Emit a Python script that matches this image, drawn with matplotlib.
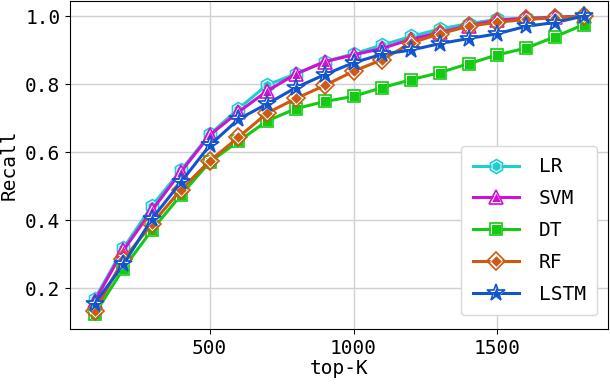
import matplotlib
matplotlib.use("Agg")
import matplotlib.pyplot as plt
from matplotlib.legend_handler import HandlerTuple

# top-K values on the x axis
top_k = [100, 200, 300, 400, 500, 600, 700, 800, 900,
         1000, 1100, 1200, 1300, 1400, 1500, 1600, 1700, 1800]

# recall of each model
recall_lr = [0.168, 0.318, 0.443, 0.547, 0.652, 0.728, 0.798, 0.830, 0.866,
             0.889, 0.915, 0.940, 0.962, 0.978, 0.990, 0.994, 0.997, 1.000]
recall_svm = [0.162, 0.312, 0.430, 0.542, 0.650, 0.718, 0.780, 0.830, 0.866,
              0.886, 0.905, 0.932, 0.952, 0.972, 0.988, 0.993, 0.996, 1.000]
recall_dt = [0.124, 0.258, 0.372, 0.474, 0.571, 0.632, 0.692, 0.728, 0.749,
             0.764, 0.790, 0.813, 0.834, 0.860, 0.886, 0.906, 0.939, 0.975]
recall_rf = [0.133, 0.285, 0.390, 0.490, 0.574, 0.644, 0.715, 0.758, 0.796,
             0.838, 0.872, 0.921, 0.948, 0.970, 0.982, 0.990, 0.995, 1.000]
recall_lstm = [0.155, 0.270, 0.405, 0.512, 0.620, 0.697, 0.742, 0.790, 0.828,
               0.863, 0.888, 0.900, 0.919, 0.934, 0.948, 0.970, 0.981, 1.000]

labels = ["LR", "SVM", "DT", "RF", "LSTM"]
series = [recall_lr, recall_svm, recall_dt, recall_rf, recall_lstm]
colors = ["#1ccfd2", "#d011d0", "#11cc11", "#d0580f", "#1155cc"]
markers = ["h", "^", "s", "D", "*"]
msizes = [7.5, 7.5, 6.5, 6.5, 10.5]

plt.rcParams["font.family"] = ["DejaVu Sans Mono"]
plt.rcParams["font.size"] = 14

fig = plt.figure(figsize=(6.1, 3.84), dpi=100)
ax = fig.add_axes([0.115, 0.143, 0.882, 0.854])

handles = []
for lab, ys, c, m, ms in zip(labels, series, colors, markers, msizes):
    # filled core with a thin white rim
    core, = ax.plot(top_k, ys, color=c, lw=2.2, marker=m, ms=ms,
                    mfc=c, mec="white", mew=0.7, zorder=3)
    # hollow outer ring in the line colour
    ring, = ax.plot(top_k, ys, ls="none", marker=m, ms=ms + 2.5,
                    mfc="none", mec=c, mew=1.2, zorder=3)
    handles.append((core, ring))

ax.set_xticks([500, 1000, 1500])
ax.set_yticks([0.2, 0.4, 0.6, 0.8, 1.0])
ax.set_xlabel("top-K", labelpad=1)
ax.set_ylabel("Recall", labelpad=5)
ax.grid(True, color="#d0d0d0", lw=1.0)
ax.set_axisbelow(True)

ax.legend(handles, labels, handler_map={tuple: HandlerTuple(ndivide=1)},
          loc="lower right", handlelength=2.4, labelspacing=0.66,
          borderpad=0.6, handletextpad=1.0, framealpha=1.0,
          edgecolor="#d8d8d8", bbox_to_anchor=(0.998, 0.012))

fig.savefig("out.png", dpi=100)
